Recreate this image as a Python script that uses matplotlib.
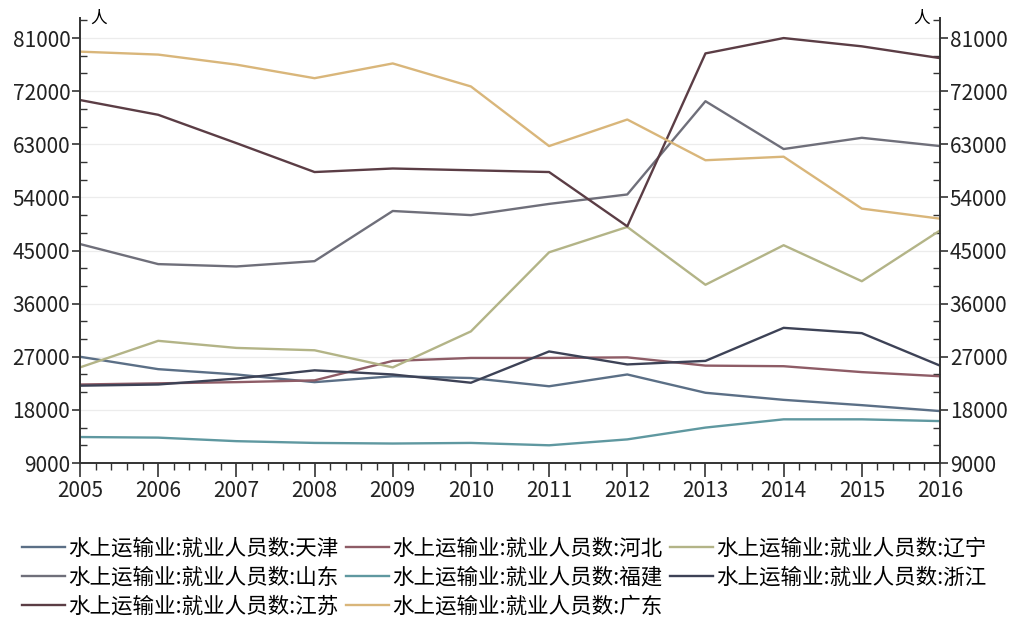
import matplotlib.pyplot as plt
from matplotlib.ticker import MultipleLocator, AutoMinorLocator

plt.rcParams['font.family'] = ['Noto Sans CJK SC', 'DejaVu Sans']

years = [2005, 2006, 2007, 2008, 2009, 2010, 2011, 2012, 2013, 2014, 2015, 2016]

tianjin = [27000, 24900, 24000, 22700, 23700, 23400, 22000, 24000, 20900, 19700, 18800, 17800]
hebei = [22300, 22500, 22700, 23000, 26300, 26800, 26800, 26900, 25500, 25400, 24400, 23700]
liaoning = [25200, 29700, 28500, 28100, 25200, 31300, 44700, 49000, 39200, 45900, 39800, 48400]
shandong = [46100, 42700, 42300, 43200, 51700, 51000, 52900, 54500, 70300, 62200, 64100, 62700]
fujian = [13400, 13300, 12700, 12400, 12300, 12400, 12000, 13000, 15000, 16400, 16400, 16100]
zhejiang = [22100, 22300, 23300, 24700, 24000, 22600, 27900, 25700, 26300, 31900, 31000, 25500]
jiangsu = [70500, 68000, 63200, 58300, 58900, 58600, 58300, 49100, 78400, 81000, 79600, 77600]
guangdong = [78700, 78200, 76500, 74200, 76700, 72800, 62700, 67200, 60300, 60900, 52100, 50400]

series = [
    ('水上运输业:就业人员数:天津', tianjin, '#5b6f86'),
    ('水上运输业:就业人员数:河北', hebei, '#8e5c66'),
    ('水上运输业:就业人员数:辽宁', liaoning, '#b3b487'),
    ('水上运输业:就业人员数:山东', shandong, '#6f6f7a'),
    ('水上运输业:就业人员数:福建', fujian, '#5f98a0'),
    ('水上运输业:就业人员数:浙江', zhejiang, '#3d4256'),
    ('水上运输业:就业人员数:江苏', jiangsu, '#5b3d45'),
    ('水上运输业:就业人员数:广东', guangdong, '#d9b67a'),
]

fig = plt.figure(figsize=(10.16, 6.28), dpi=100)
ax = fig.add_axes([80 / 1016, 1 - 463 / 628, 860 / 1016, (463 - 18) / 628])

for label, vals, color in series:
    ax.plot(years, vals, color=color, linewidth=1.7, label=label)

ax.set_xlim(2005, 2016)
ax.set_ylim(9000, 84400)
ax.xaxis.set_major_locator(MultipleLocator(1))
ax.xaxis.set_minor_locator(AutoMinorLocator(5))
ax.yaxis.set_major_locator(MultipleLocator(9000))
ax.yaxis.set_minor_locator(AutoMinorLocator(3))

ax.grid(True, axis='y', which='major', color='#ececec', linewidth=0.9)
ax.set_axisbelow(True)

for side in ['left', 'right', 'bottom']:
    ax.spines[side].set_color('#333333')
    ax.spines[side].set_linewidth(1.4)
ax.spines['top'].set_visible(False)

ax.tick_params(axis='y', which='major', direction='out', length=6, width=1.2,
               color='#333333', labelsize=15, labelcolor='#222222',
               left=True, right=True, labelleft=True, labelright=True, pad=1)
ax.tick_params(axis='y', which='minor', direction='in', length=5, width=1.0,
               color='#333333', left=True, right=True)
ax.tick_params(axis='x', which='major', direction='out', length=10, width=1.2,
               color='#333333', labelsize=15, labelcolor='#222222', pad=2)
ax.tick_params(axis='x', which='minor', direction='out', length=5, width=1.0,
               color='#333333')

ax.text(0.012, 1.0, '人', transform=ax.transAxes, fontsize=12, ha='left', va='center')
ax.text(0.988, 1.0, '人', transform=ax.transAxes, fontsize=12, ha='right', va='center')

# legend fills column by column, reorder so it reads row by row
handles, labels = ax.get_legend_handles_labels()
order = [0, 3, 6, 1, 4, 7, 2, 5]
fig.legend([handles[i] for i in order], [labels[i] for i in order],
           loc='upper left', bbox_to_anchor=(0.013, 0.158),
           ncol=3, frameon=False, fontsize=15.5, handlelength=2.0, handletextpad=0.15,
           columnspacing=0.35, labelspacing=0.33, borderaxespad=0)

fig.savefig('out.png', dpi=100)
